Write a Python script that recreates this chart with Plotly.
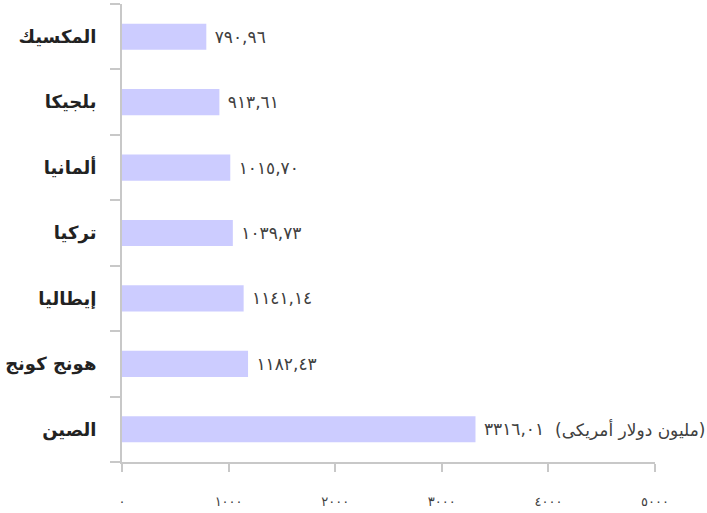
import plotly.graph_objects as go

# Data (bottom to top)
countries = ["الصين", "هونج كونج", "إيطاليا", "تركيا", "ألمانيا", "بلجيكا", "المكسيك"]
values = [3316.01, 1182.43, 1141.14, 1039.73, 1015.70, 913.61, 790.96]
x_tick_vals = [0, 1000, 2000, 3000, 4000, 5000]
unit_label = "(مليون دولار أمريكى)"

AR_DIGITS = str.maketrans("0123456789", "٠١٢٣٤٥٦٧٨٩")


def ar_num(v, decimals=2):
    s = f"{v:.{decimals}f}".replace(".", ",")
    return s.translate(AR_DIGITS)


value_text = [" " + ar_num(v) for v in values]
x_tick_text = [ar_num(v, 0) for v in x_tick_vals]

FONT = "DejaVu Sans, Noto Sans, sans-serif"
AXIS_COLOR = "#C8C8C8"

fig = go.Figure(
    go.Bar(
        x=values,
        y=countries,
        orientation="h",
        marker=dict(color="#CCCCFF", line=dict(width=0)),
        text=value_text,
        textposition="outside",
        textfont=dict(family=FONT, size=17, color="#404040"),
        cliponaxis=False,
        hoverinfo="skip",
    )
)

fig.add_annotation(
    x=1.098, xref="paper", y=countries[0], yref="y",
    text=unit_label, showarrow=False, xanchor="right",
    font=dict(family=FONT, size=17, color="#404040"),
)

fig.update_layout(
    width=707, height=513,
    margin=dict(l=122, r=52, t=4, b=51, autoexpand=False),
    plot_bgcolor="white", paper_bgcolor="white",
    bargap=0.6,
    showlegend=False,
    font=dict(family=FONT),
)

fig.update_xaxes(
    range=[0, 5000],
    tickvals=x_tick_vals, ticktext=x_tick_text,
    showgrid=False, zeroline=False,
    showline=True, linecolor=AXIS_COLOR, linewidth=2,
    ticks="outside", ticklen=8, tickcolor=AXIS_COLOR, tickwidth=2,
    ticklabelstandoff=18,
    tickfont=dict(family=FONT, size=13, color="#404040"),
)

fig.update_yaxes(
    showgrid=False, zeroline=False,
    showline=True, linecolor=AXIS_COLOR, linewidth=2,
    ticks="outside", tickson="boundaries", ticklen=10, tickcolor=AXIS_COLOR, tickwidth=2,
    ticklabelstandoff=20,
    tickfont=dict(family=FONT, size=18, color="#222222", weight="bold"),
)

fig.write_html(
    "out.html",
    config={"displayModeBar": False},
    post_script="document.body.style.margin='0';document.body.style.padding='0';",
)
